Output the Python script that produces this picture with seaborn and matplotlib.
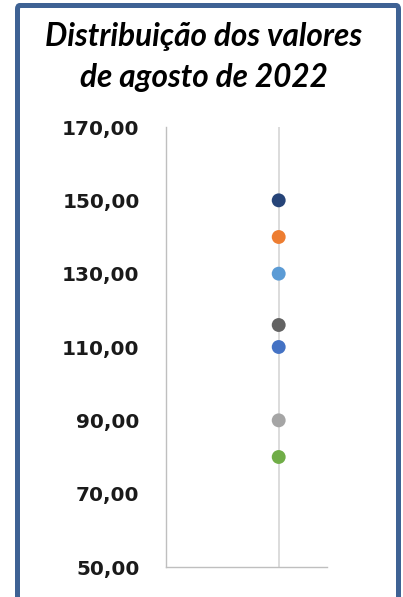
import numpy as np
import pandas as pd
import matplotlib
matplotlib.use("Agg")
import matplotlib.pyplot as plt
from matplotlib.patches import FancyBboxPatch
import seaborn as sns

# values of august 2022 (one point per series)
series = ["Série 7", "Série 2", "Série 5", "Série 9", "Série 1", "Série 3", "Série 6"]
valores = [150, 140, 130, 116, 110, 90, 80]
cores = ["#264478", "#ED7D31", "#5B9BD5", "#636363", "#4472C4", "#A5A5A5", "#70AD47"]
y_ticks = [50, 70, 90, 110, 130, 150, 170]
y_labels = ["50,00", "70,00", "90,00", "110,00", "130,00", "150,00", "170,00"]
titulo = ["Distribuição dos valores", "de agosto de 2022"]

df = pd.DataFrame({"serie": series, "valor": valores, "x": [0] * len(valores)})

sns.set_theme(style="white")
W, H = 403, 597
fig = plt.figure(figsize=(W / 100, H / 100), dpi=100)
ax = fig.add_axes([166 / W, 1 - 567 / H, (327 - 166) / W, (567 - 127) / H])

# vertical guide behind the points
ax.axvline(0, color="#D9D9D9", lw=1.3, zorder=0)
sns.scatterplot(data=df, x="x", y="valor", hue="serie", palette=cores,
                s=100, edgecolor="none", legend=False, ax=ax, zorder=3)

ax.set_xlim(-1.4, 0.6)
ax.set_ylim(50, 170)
ax.set_xticks([])
ax.set_yticks(y_ticks)
ax.set_yticklabels(y_labels, fontsize=14.4, fontweight="bold", color="#1A1A1A",
                   family="DejaVu Sans")
ax.tick_params(axis="y", length=0, pad=19)
ax.set_xlabel("")
ax.set_ylabel("")
for side in ["top", "right"]:
    ax.spines[side].set_visible(False)
for side in ["left", "bottom"]:
    ax.spines[side].set_color("#BFBFBF")
    ax.spines[side].set_linewidth(1.0)

# title, two lines
for texto, base in zip(titulo, [46, 87]):
    fig.text(204 / W, 1 - base / H, texto, ha="center", va="baseline",
             fontsize=22.7, fontweight="bold", style="italic", family="Lato",
             color="#000000")

# blue frame around the chart
frame = FancyBboxPatch((17.5 / W, -0.05), (398.5 - 17.5) / W, 1 - 5.5 / H + 0.05,
                       boxstyle="round,pad=0,rounding_size=0.006",
                       transform=fig.transFigure, fill=False,
                       edgecolor="#3E6294", lw=3.6)
fig.patches.append(frame)

fig.savefig("out.png", dpi=100)
